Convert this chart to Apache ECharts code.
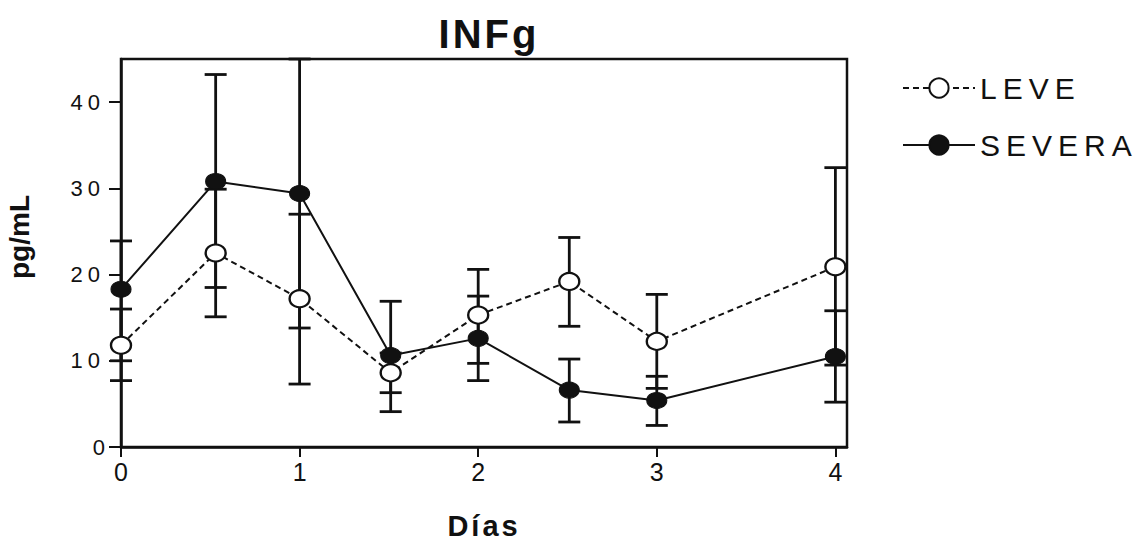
<!DOCTYPE html>
<html>
<head>
<meta charset="utf-8">
<script src="https://cdn.jsdelivr.net/npm/echarts@6/dist/echarts.min.js"></script>
<style>
html,body{margin:0;padding:0;background:#fff;}
#chart{width:1146px;height:542px;}
</style>
</head>
<body>
<div id="chart"></div>
<script>
// ---- data ----
const days = [0, 0.53, 1, 1.51, 2, 2.51, 3, 4];
const leve = [11.8, 22.5, 17.2, 8.6, 15.3, 19.2, 12.25, 20.9];
const leveLow = [7.7, 15.1, 7.3, 6.3, 9.7, 14.0, 6.8, 9.5];
const leveHigh = [16.0, 29.9, 27.0, 10.9, 20.6, 24.3, 17.7, 32.4];
const severa = [18.3, 30.8, 29.4, 10.6, 12.6, 6.6, 5.4, 10.5];
const severaLow = [10.0, 18.5, 13.8, 4.1, 7.7, 2.9, 2.5, 5.2];
const severaHigh = [23.9, 43.2, 45.0, 16.9, 17.5, 10.2, 8.2, 15.8];
const xTicks = [0, 1, 2, 3, 4];
const yTicks = [0, 10, 20, 30, 40];
const titleText = 'INFg';
const xName = 'Días';
const yName = 'pg/mL';
const seriesNames = ['LEVE', 'SEVERA'];

const chart = echarts.init(document.getElementById('chart'), null, {renderer: 'svg'});
const sans = "'Liberation Sans', Arial, Helvetica, sans-serif";

function errData(low, high) {
  return days.map((d, i) => [d, low[i], high[i]]);
}
function errRender(params, api) {
  const x = api.value(0);
  const lo = api.coord([x, api.value(1)]);
  const hi = api.coord([x, api.value(2)]);
  const cap = 11;
  const st = {stroke: '#111', lineWidth: 2.8};
  return {
    type: 'group',
    children: [
      {type: 'line', shape: {x1: lo[0], y1: lo[1], x2: hi[0], y2: hi[1]}, style: st},
      {type: 'line', shape: {x1: lo[0] - cap, y1: lo[1], x2: lo[0] + cap, y2: lo[1]}, style: st},
      {type: 'line', shape: {x1: hi[0] - cap, y1: hi[1], x2: hi[0] + cap, y2: hi[1]}, style: st}
    ]
  };
}

const option = {
  animation: false,
  backgroundColor: '#fff',
  title: {
    text: titleText,
    left: 484,
    top: 9,
    textAlign: 'center',
    textStyle: {fontFamily: sans, fontWeight: 'bold', fontSize: 40, color: '#111'}
  },
  legend: {
    orient: 'vertical',
    left: 897,
    top: 68,
    itemWidth: 72,
    itemHeight: 24,
    itemGap: 27,
    data: seriesNames,
    textStyle: {fontFamily: sans, fontSize: 30, color: '#111'}
  },
  grid: {
    left: 121, right: 299, top: 59, bottom: 95,
    containLabel: false,
    outerBoundsMode: 'none',
    show: true, borderColor: '#111', borderWidth: 2.5, backgroundColor: 'transparent'
  },
  xAxis: {
    type: 'value',
    min: 0,
    max: 4.065,
    name: xName,
    nameLocation: 'middle',
    nameGap: 64,
    nameTextStyle: {fontFamily: sans, fontWeight: 'bold', fontSize: 29, color: '#111'},
    axisLine: {show: true, onZero: false, lineStyle: {color: '#111', width: 2.5}},
    axisTick: {show: true, length: 10, customValues: xTicks, lineStyle: {color: '#111', width: 2}},
    axisLabel: {customValues: xTicks, fontFamily: sans, fontSize: 25, color: '#111', margin: 12},
    splitLine: {show: false}
  },
  yAxis: {
    type: 'value',
    min: 0,
    max: 45,
    name: yName,
    nameLocation: 'middle',
    nameRotate: 90,
    nameGap: 88,
    nameTextStyle: {fontFamily: sans, fontWeight: 'bold', fontSize: 28, color: '#111', padding: [0, 0, 0, 32]},
    axisLine: {show: true, lineStyle: {color: '#111', width: 2.5}},
    axisTick: {show: true, length: 12, customValues: yTicks, lineStyle: {color: '#111', width: 2}},
    axisLabel: {customValues: yTicks, fontFamily: sans, fontSize: 22, color: '#111', margin: 16},
    splitLine: {show: false}
  },
  series: [
    {
      type: 'custom', name: 'errLeve', renderItem: errRender, data: errData(leveLow, leveHigh),
      z: 1, silent: true, encode: {x: 0, y: [1, 2]}
    },
    {
      type: 'custom', name: 'errSevera', renderItem: errRender, data: errData(severaLow, severaHigh),
      z: 1, silent: true, encode: {x: 0, y: [1, 2]}
    },
    {
      type: 'line', name: seriesNames[0], z: 3,
      data: days.map((d, i) => [d, leve[i]]),
      symbol: 'circle', symbolSize: [20, 17],
      lineStyle: {color: '#111', width: 2, type: [6, 4]},
      itemStyle: {color: '#fff', borderColor: '#111', borderWidth: 2.2}
    },
    {
      type: 'line', name: seriesNames[1], z: 4,
      data: days.map((d, i) => [d, severa[i]]),
      symbol: 'circle', symbolSize: [20, 16],
      lineStyle: {color: '#111', width: 2, type: 'solid'},
      itemStyle: {color: '#111', borderColor: '#111', borderWidth: 1}
    }
  ]
};
chart.setOption(option);

function applySpacing() {
  const map = {'LEVE': 6, 'SEVERA': 6, 'INFg': 3, 'Días': 3, '10': 5, '20': 5, '30': 5, '40': 5};
  document.querySelectorAll('#chart svg text').forEach(t => {
    const s = map[t.textContent.trim()];
    if (s) t.style.letterSpacing = s + 'px';
  });
}
applySpacing();
chart.on('finished', applySpacing);
</script>
</body>
</html>
